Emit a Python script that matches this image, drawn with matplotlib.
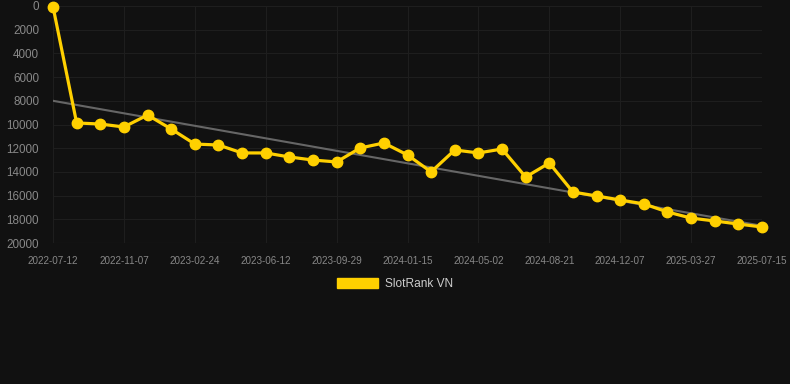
import matplotlib
matplotlib.use("Agg")
import matplotlib.pyplot as plt
from matplotlib.patches import Patch

# 数据
tick_labels = ["2022-07-12", "2022-11-07", "2023-02-24", "2023-06-12", "2023-09-29",
               "2024-01-15", "2024-05-02", "2024-08-21", "2024-12-07", "2025-03-27",
               "2025-07-15"]
rank_values = [50, 9870, 9960, 10210, 9200, 10380, 11650, 11730, 12400, 12400,
               12740, 13000, 13160, 11980, 11560, 12570, 14000, 12150, 12400, 12070,
               14430, 13250, 15700, 16030, 16370, 16700, 17380, 17900, 18140, 18400,
               18650]
trend_start = 8000
trend_end = 18550

BG = "#111111"
YELLOW = "#FFD000"
TEXT = "#888888"
GRID = "#1e1e1e"

plt.rcParams["font.family"] = ["Liberation Sans", "DejaVu Sans"]

fig = plt.figure(figsize=(7.9, 3.84), dpi=100, facecolor=BG)
ax = fig.add_axes([53 / 790, 1 - 243 / 384, (762 - 53) / 790, (243 - 6) / 384])
ax.set_facecolor(BG)

x = list(range(len(rank_values)))
ax.plot([x[0], x[-1]], [trend_start, trend_end], color="#666666", linewidth=1.5, zorder=2)
ax.plot(x, rank_values, color=YELLOW, linewidth=2.3, marker="o", markersize=7.5,
        clip_on=False, zorder=3)

ax.set_xlim(0, len(rank_values) - 1)
ax.set_ylim(20000, 0)
ax.set_yticks(range(0, 20001, 2000))
ax.set_xticks(range(0, len(rank_values), 3))
ax.set_xticklabels(tick_labels)
ax.tick_params(axis="both", colors=TEXT, length=0)
ax.tick_params(axis="y", pad=10, labelsize=8.4)
ax.tick_params(axis="x", pad=9, labelsize=7.1)
ax.grid(True, color=GRID, linewidth=0.8)
for s in ax.spines.values():
    s.set_visible(False)
ax.axhline(20000, color="#2a2a2a", linewidth=0.8)

handle = Patch(facecolor=YELLOW, edgecolor=YELLOW)
fig.legend([handle], ["SlotRank VN"], loc="center", bbox_to_anchor=(0.5, 1 - 284 / 384),
           frameon=False, labelcolor="#cccccc", fontsize=8.6, handlelength=3.4,
           handleheight=1.0, handletextpad=0.6)

fig.savefig("out.png", dpi=100, facecolor=BG)
